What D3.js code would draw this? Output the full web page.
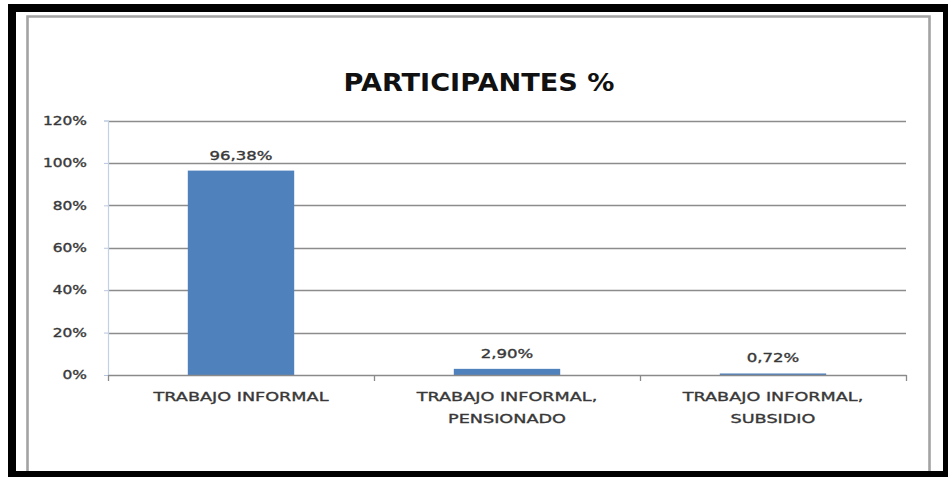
<!DOCTYPE html>
<html>
<head>
<meta charset="utf-8">
<script src="https://cdn.jsdelivr.net/npm/d3@7"></script>
<style>
  html, body { margin: 0; padding: 0; background: #ffffff; }
  svg { display: block; }
</style>
</head>
<body>
<svg id="chart" width="948" height="477"></svg>
<script>
// Chart data
const title = "PARTICIPANTES %";
const categories = ["TRABAJO INFORMAL", "TRABAJO INFORMAL, PENSIONADO", "TRABAJO INFORMAL, SUBSIDIO"];
const values = [96.38, 2.90, 0.72];
const valueLabels = ["96,38%", "2,90%", "0,72%"];
const yTicks = [0, 20, 40, 60, 80, 100, 120];
const yTickLabels = ["0%", "20%", "40%", "60%", "80%", "100%", "120%"];

const svg = d3.select("#chart");
const W = 948, H = 477;

// Widen glyphs horizontally (the chart uses a broad, low-height label face)
function widen(sel, factor) {
  sel.each(function () {
    const len = this.getComputedTextLength();
    d3.select(this).attr("textLength", len * factor).attr("lengthAdjust", "spacingAndGlyphs");
  });
}

// Slightly heavier label strokes
function heavy(sel, col) {
  sel.attr("stroke", col).attr("stroke-width", 0.35).attr("paint-order", "stroke");
}

// Frame: black outer band, white inside, grey inner chart border
svg.append("rect").attr("x", 8).attr("y", 4).attr("width", W - 8).attr("height", H - 4).attr("fill", "#000");
svg.append("rect").attr("x", 16).attr("y", 12).attr("width", 927).attr("height", 459).attr("fill", "#fff");
svg.append("path")
  .attr("d", "M27.5,471 L27.5,16.5 L929.5,16.5 L929.5,471")
  .attr("fill", "none").attr("stroke", "#a3a3a3").attr("stroke-width", 2.6);

// Plot area
const plot = { left: 108, right: 906, top: 120.5, bottom: 375 };

const x = d3.scaleBand().domain(categories).range([plot.left, plot.right]).paddingInner(0).paddingOuter(0);
const y = d3.scaleLinear().domain([0, 120]).range([plot.bottom, plot.top]);

const fontFam = "'DejaVu Sans', Verdana, sans-serif";
const textCol = "#383838";

// Gridlines
svg.append("g").selectAll("line")
  .data(yTicks.filter(t => t > 0))
  .join("line")
  .attr("x1", plot.left).attr("x2", plot.right)
  .attr("y1", d => Math.round(y(d)) + 0.5).attr("y2", d => Math.round(y(d)) + 0.5)
  .attr("stroke", "#8c8c8c").attr("stroke-width", 1.3);

// Y axis
const yAxis = d3.axisLeft(y)
  .tickValues(yTicks)
  .tickFormat((d, i) => yTickLabels[i])
  .tickSize(4)
  .tickPadding(17);
const gy = svg.append("g").attr("transform", `translate(${plot.left},0)`).call(yAxis);
gy.select(".domain").attr("stroke", "#c3d0e6").attr("stroke-width", 1.2);
gy.selectAll(".tick line").attr("stroke", "#b7c6e0");
gy.selectAll(".tick text")
  .attr("fill", textCol)
  .style("font-family", fontFam)
  .style("font-size", "11.5px");
heavy(gy.selectAll(".tick text"), textCol);
widen(gy.selectAll(".tick text"), 1.34);

// Bars
const barW = x.bandwidth() * 0.4;
svg.append("g").selectAll("rect")
  .data(categories)
  .join("rect")
  .attr("x", d => x(d) + (x.bandwidth() - barW) / 2)
  .attr("width", barW)
  .attr("y", (d, i) => y(values[i]))
  .attr("height", (d, i) => y(0) - y(values[i]))
  .attr("fill", "#4f81bd");

// X axis with boundary ticks
const xb = d3.scaleLinear().domain([0, categories.length]).range([plot.left, plot.right]);
const xAxis = d3.axisBottom(xb).tickValues(d3.range(categories.length + 1)).tickFormat("").tickSize(6).tickSizeOuter(0);
const gx = svg.append("g").attr("transform", `translate(0,${plot.bottom})`).call(xAxis);
gx.select(".domain").attr("stroke", "#8a8a8a").attr("stroke-width", 1.5);
gx.selectAll(".tick line").attr("stroke", "#8a8a8a").attr("stroke-width", 1.3);

// Category labels (wrapped after the comma)
const catG = svg.append("g");
categories.forEach(c => {
  const parts = c.split(", ");
  const lines = parts.length > 1 ? [parts[0] + ",", parts.slice(1).join(", ")] : [c];
  lines.forEach((ln, i) => {
    catG.append("text")
      .attr("x", x(c) + x.bandwidth() / 2)
      .attr("y", 401 + i * 21.5)
      .attr("text-anchor", "middle")
      .attr("fill", textCol)
      .style("font-family", fontFam)
      .style("font-size", "12.5px")
      .text(ln);
  });
});
heavy(catG.selectAll("text"), textCol);
widen(catG.selectAll("text"), 1.41);

// Value labels
const valG = svg.append("g");
valG.selectAll("text")
  .data(categories)
  .join("text")
  .attr("x", d => x(d) + x.bandwidth() / 2)
  .attr("y", (d, i) => y(values[i]) - 11)
  .attr("text-anchor", "middle")
  .attr("fill", textCol)
  .style("font-family", fontFam)
  .style("font-size", "12px")
  .text((d, i) => valueLabels[i]);
heavy(valG.selectAll("text"), textCol);
widen(valG.selectAll("text"), 1.38);

// Title
svg.append("text")
  .attr("x", 479)
  .attr("y", 91)
  .attr("text-anchor", "middle")
  .attr("fill", "#111")
  .attr("textLength", 271)
  .attr("lengthAdjust", "spacingAndGlyphs")
  .style("font-family", fontFam)
  .style("font-weight", "bold")
  .style("font-size", "25px")
  .text(title);
</script>
</body>
</html>
